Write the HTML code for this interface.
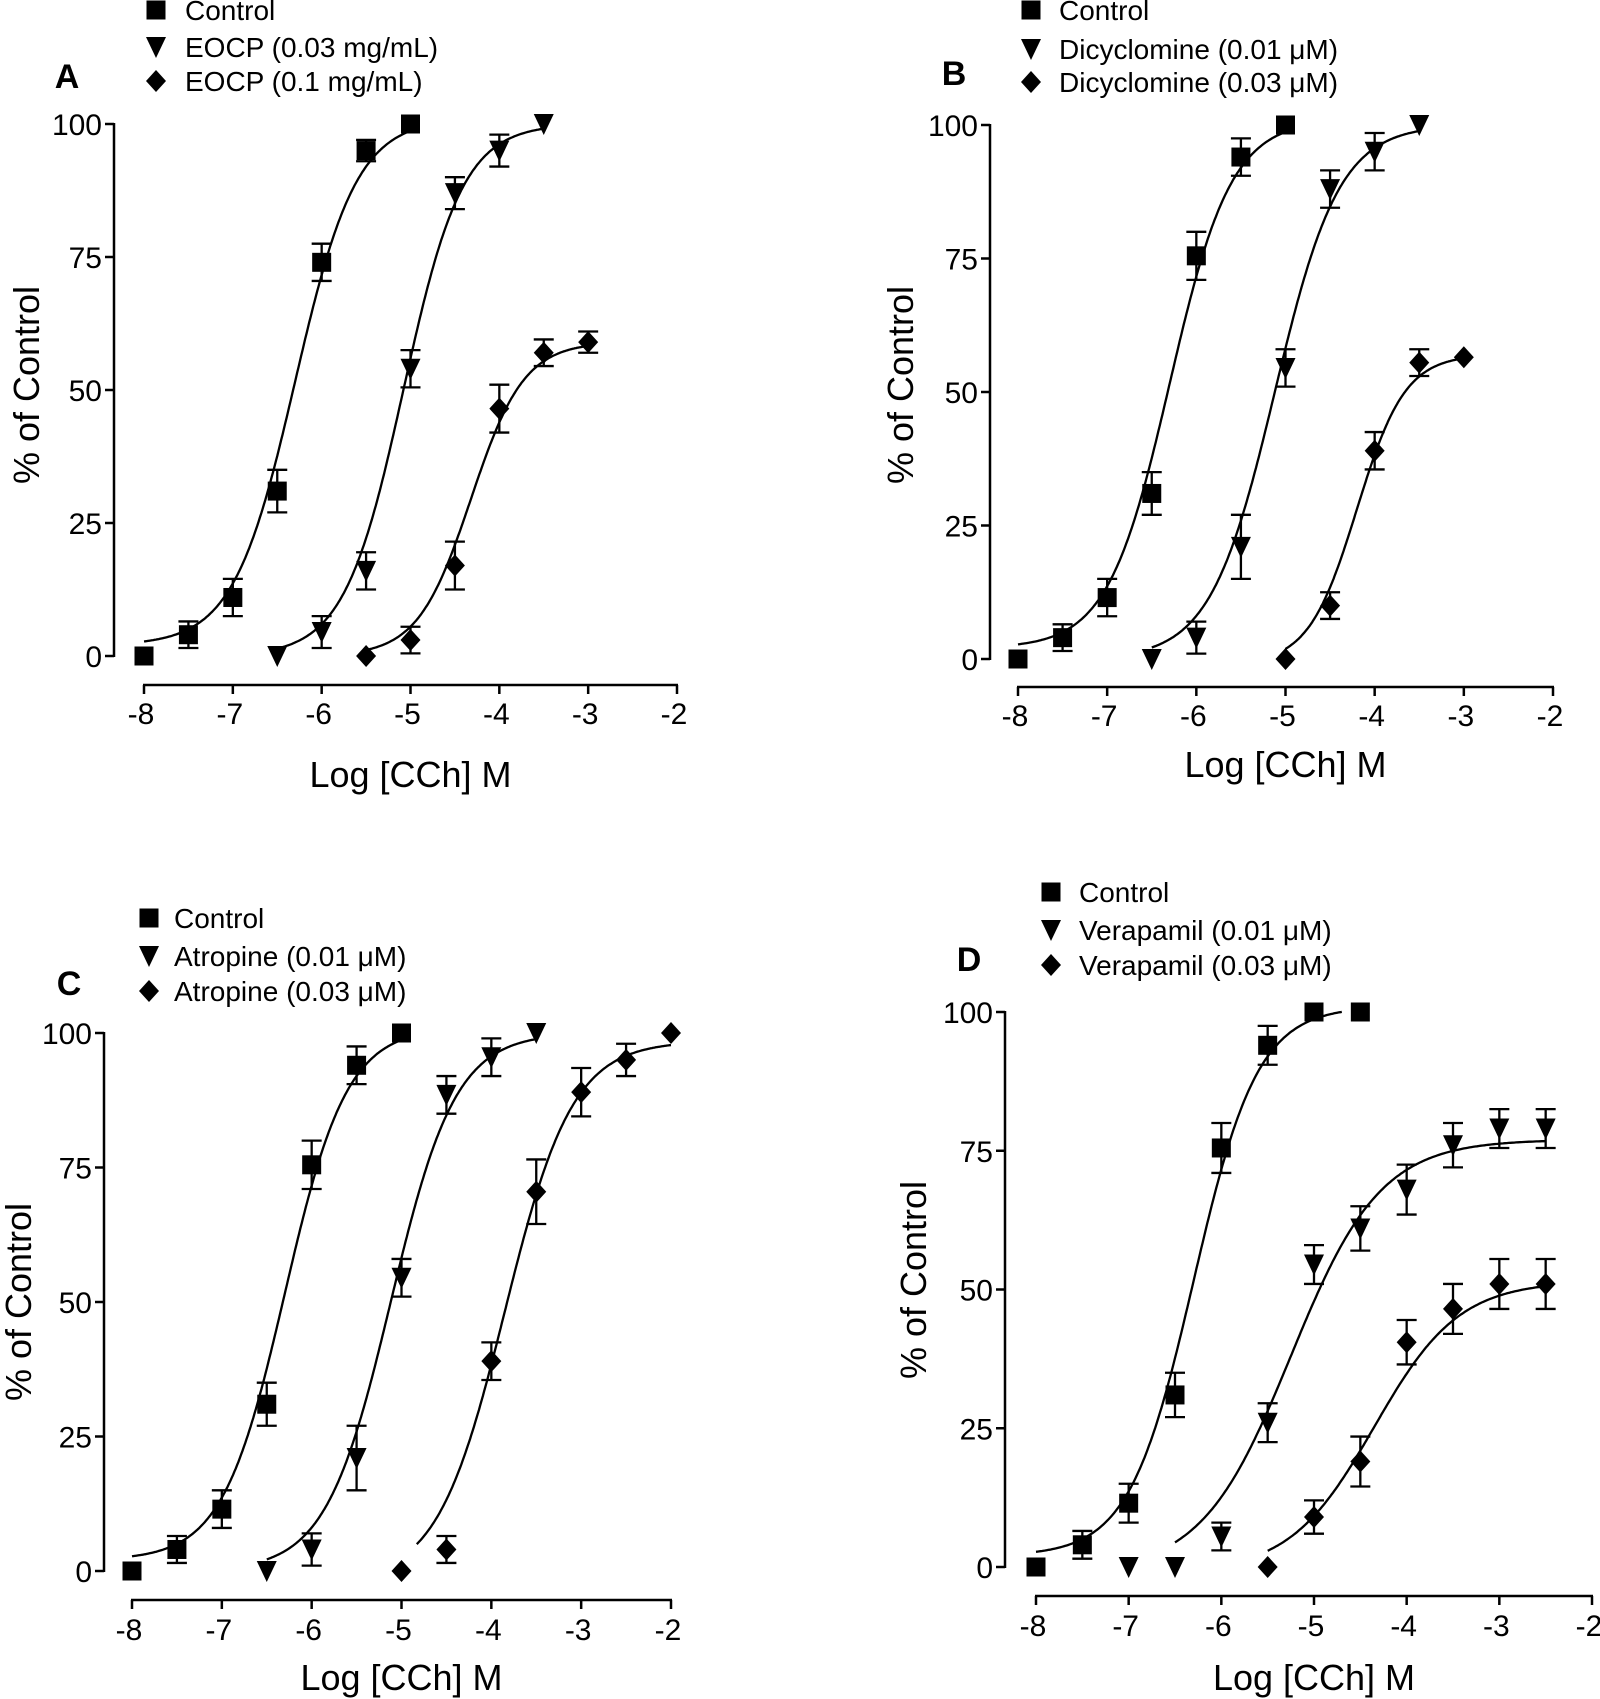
<!DOCTYPE html>
<html><head><meta charset="utf-8"><style>
html,body{margin:0;padding:0;background:#fff;}
svg{display:block;font-family:"Liberation Sans",Arial,sans-serif;}
</style></head><body>
<svg id="fig" width="1600" height="1699" viewBox="0 0 1600 1699"></svg>
<script>
// ---------- data ----------
const xTicks = [-8,-7,-6,-5,-4,-3,-2];
const yTicks = [0,25,50,75,100];

const aCtrlX=[-8,-7.5,-7,-6.5,-6,-5.5,-5], aCtrlY=[0,4,11,31,74,95,100], aCtrlE=[0,2.5,3.5,4,3.5,2,0];
const aT1X=[-6.5,-6,-5.5,-5,-4.5,-4,-3.5], aT1Y=[0,4.5,16,54,87,95,100], aT1E=[0,3,3.5,3.5,3,3,0];
const aT2X=[-5.5,-5,-4.5,-4,-3.5,-3], aT2Y=[0,3,17,46.5,57,59], aT2E=[0,2.5,4.5,4.5,2.5,2];

const bCtrlX=[-8,-7.5,-7,-6.5,-6,-5.5,-5], bCtrlY=[0,4,11.5,31,75.5,94,100], bCtrlE=[0,2.5,3.5,4,4.5,3.5,0];
const bT1X=[-6.5,-6,-5.5,-5,-4.5,-4,-3.5], bT1Y=[0,4,21,54.5,88,95,100], bT1E=[0,3,6,3.5,3.5,3.5,0];
const bT2X=[-5,-4.5,-4,-3.5,-3], bT2Y=[0,10,39,55.5,56.5], bT2E=[0,2.5,3.5,2.5,0];

const cCtrlX=[-8,-7.5,-7,-6.5,-6,-5.5,-5], cCtrlY=[0,4,11.5,31,75.5,94,100], cCtrlE=[0,2.5,3.5,4,4.5,3.5,0];
const cT1X=[-6.5,-6,-5.5,-5,-4.5,-4,-3.5], cT1Y=[0,4,21,54.5,88.5,95.5,100], cT1E=[0,3,6,3.5,3.5,3.5,0];
const cT2X=[-5,-4.5,-4,-3.5,-3,-2.5,-2], cT2Y=[0,4,39,70.5,89,95,100], cT2E=[0,2.5,3.5,6,4.5,3,0];

const dCtrlX=[-8,-7.5,-7,-6.5,-6,-5.5,-5,-4.5], dCtrlY=[0,4,11.5,31,75.5,94,100,100], dCtrlE=[0,2.5,3.5,4,4.5,3.5,0,0];
const dT1X=[-7,-6.5,-6,-5.5,-5,-4.5,-4,-3.5,-3,-2.5], dT1Y=[0,0,5.5,26,54.5,61,68,76,79,79], dT1E=[0,0,2.5,3.5,3.5,4,4.5,4,3.5,3.5];
const dT2X=[-5.5,-5,-4.5,-4,-3.5,-3,-2.5], dT2Y=[0,9,19,40.5,46.5,51,51], dT2E=[0,3,4.5,4,4.5,4.5,4.5];

// fitted curve params [bottom, top, logEC50, hill, xStart, xEnd]
const fitA=[[2,101,-6.3,1.25,-8,-5],[0,100,-5.08,1.3,-6.5,-3.5],[0,59,-4.32,1.45,-5.5,-3]];
const fitB=[[2,101,-6.3,1.25,-8,-5],[0,100,-5.12,1.2,-6.5,-3.5],[-1,57,-4.2,1.6,-5,-3]];
const fitC=[[2,101,-6.3,1.25,-8,-5],[0,100,-5.12,1.2,-6.5,-3.5],[-2,98.5,-3.85,1.15,-4.83,-2]];
const fitD=[[2,101,-6.3,1.25,-8,-4.7],[-1,77,-5.25,0.9,-6.5,-2.5],[-1,51.5,-4.35,0.95,-5.5,-2.5]];

const panels=[
 {id:'a',letter:'A',legend:['Control','EOCP (0.03 mg/mL)','EOCP (0.1 mg/mL)'],
  series:[[aCtrlX,aCtrlY,aCtrlE],[aT1X,aT1Y,aT1E],[aT2X,aT2Y,aT2E]],fit:fitA,
  g:{yAx:114,x0:144,x1:677,y0:656,y100:124,xAx:685,tickY:713,titleY:774,ytX:26,ytY:385,lgM:156,lgT:185,lgY:[10,47,81],letX:67,letY:76}},
 {id:'b',letter:'B',legend:['Control','Dicyclomine (0.01 \u03BCM)','Dicyclomine (0.03 \u03BCM)'],
  series:[[bCtrlX,bCtrlY,bCtrlE],[bT1X,bT1Y,bT1E],[bT2X,bT2Y,bT2E]],fit:fitB,
  g:{yAx:990,x0:1018,x1:1553,y0:659,y100:125,xAx:687,tickY:715,titleY:764,ytX:900,ytY:385,lgM:1031,lgT:1059,lgY:[10,49,82],letX:954,letY:73}},
 {id:'c',letter:'C',legend:['Control','Atropine (0.01 \u03BCM)','Atropine (0.03 \u03BCM)'],
  series:[[cCtrlX,cCtrlY,cCtrlE],[cT1X,cT1Y,cT1E],[cT2X,cT2Y,cT2E]],fit:fitC,
  g:{yAx:104,x0:132,x1:671,y0:1571,y100:1033,xAx:1600,tickY:1629,titleY:1677,ytX:18,ytY:1302,lgM:149,lgT:174,lgY:[918,956,991],letX:69,letY:983}},
 {id:'d',letter:'D',legend:['Control','Verapamil (0.01 \u03BCM)','Verapamil (0.03 \u03BCM)'],
  series:[[dCtrlX,dCtrlY,dCtrlE],[dT1X,dT1Y,dT1E],[dT2X,dT2Y,dT2E]],fit:fitD,
  g:{yAx:1005,x0:1036,x1:1592,y0:1567,y100:1012,xAx:1596,tickY:1625,titleY:1677,ytX:913,ytY:1280,lgM:1051,lgT:1079,lgY:[892,930,965],letX:969,letY:959}}
];
const shapes=['square','triangle','diamond'];

const NS='http://www.w3.org/2000/svg';
const svg=document.getElementById('fig');
function mk(tag,attrs,parent){const e=document.createElementNS(NS,tag);for(const k in attrs)e.setAttribute(k,attrs[k]);(parent||svg).appendChild(e);return e;}
function marker(shape,cx,cy,parent){
  let e;
  if(shape==='square') e=mk('rect',{x:cx-9.5,y:cy-9.5,width:19,height:19,fill:'#000'},parent);
  else if(shape==='triangle') e=mk('polygon',{points:`${cx-10},${cy-10} ${cx+10},${cy-10} ${cx},${cy+11}`,fill:'#000'},parent);
  else e=mk('polygon',{points:`${cx},${cy-11} ${cx+10},${cy} ${cx},${cy+11} ${cx-10},${cy}`,fill:'#000'},parent);
  return e;
}
panels.forEach(p=>{
  const g=p.g;
  const sx=v=>g.x0+(v+8)/6*(g.x1-g.x0);
  const sy=v=>g.y0-v/100*(g.y0-g.y100);
  const grp=mk('g',{});
  
  
  const ya=mk('g',{},grp);
  
  
  mk('line',{x1:g.yAx,y1:sy(100)-1,x2:g.yAx,y2:sy(0)+1,stroke:'#000','stroke-width':2.5},ya);
  yTicks.forEach(t=>{
    mk('line',{x1:g.yAx-9,y1:sy(t),x2:g.yAx,y2:sy(t),stroke:'#000','stroke-width':2.5},ya);
    const tx=mk('text',{x:g.yAx-12,y:sy(t)+11,'text-anchor':'end','font-size':30},ya);
    tx.textContent=t;
    
    
  });
  const xa=mk('g',{},grp);
  
  
  mk('line',{x1:sx(-8)-1,y1:g.xAx,x2:sx(-2)+1,y2:g.xAx,stroke:'#000','stroke-width':2.5},xa);
  xTicks.forEach(t=>{
    mk('line',{x1:sx(t),y1:g.xAx,x2:sx(t),y2:g.xAx+9,stroke:'#000','stroke-width':2.5},xa);
    const tx=mk('text',{x:sx(t)-3,y:g.tickY+11,'text-anchor':'middle','font-size':30},xa);
    tx.textContent=t;
    
    
  });
  const xt=mk('text',{x:(sx(-8)+sx(-2))/2,y:g.titleY+13,'text-anchor':'middle','font-size':36},grp);
  xt.textContent='Log [CCh] M';
  
  
  const yt=mk('text',{x:0,y:0,'text-anchor':'middle','font-size':36,transform:`translate(${g.ytX+13},${g.ytY}) rotate(-90)`},grp);
  yt.textContent='% of Control';
  
  
  const lt=mk('text',{x:g.letX,y:g.letY+12,'text-anchor':'middle','font-size':34,'font-weight':'bold'},grp);
  lt.textContent=p.letter;
  
  
  p.legend.forEach((name,i)=>{
    const le=mk('g',{},grp);
    
    
    marker(shapes[i],g.lgM,g.lgY[i],le);
    const t=mk('text',{x:g.lgT,y:g.lgY[i]+10,'font-size':28},le);
    t.textContent=name;
  });
  p.fit.forEach((f,i)=>{
    const [b,tp,ec,h,xs,xe]=f;
    let d='';
    for(let k=0;k<=200;k++){
      const x=xs+(xe-xs)*k/200;
      const y=b+(tp-b)/(1+Math.pow(10,(ec-x)*h));
      d+=(k?'L':'M')+sx(x).toFixed(1)+','+sy(y).toFixed(1);
    }
    const c=mk('path',{d:d,fill:'none',stroke:'#000','stroke-width':2.3},grp);
    
    
  });
  p.series.forEach((s,i)=>{
    const [xs,ys,es]=s;
    xs.forEach((xv,j)=>{
      const cx=sx(xv),cy=sy(ys[j]);
      if(es[j]>0){
        const eb=mk('g',{stroke:'#000','stroke-width':2.3},grp);
        
        
        mk('line',{x1:cx,y1:sy(ys[j]+es[j]),x2:cx,y2:sy(ys[j]-es[j])},eb);
        mk('line',{x1:cx-10,y1:sy(ys[j]+es[j]),x2:cx+10,y2:sy(ys[j]+es[j])},eb);
        mk('line',{x1:cx-10,y1:sy(ys[j]-es[j]),x2:cx+10,y2:sy(ys[j]-es[j])},eb);
      }
      const m=marker(shapes[i],cx,cy,grp);
      
      
    });
  });
});
</script>
</body></html>
